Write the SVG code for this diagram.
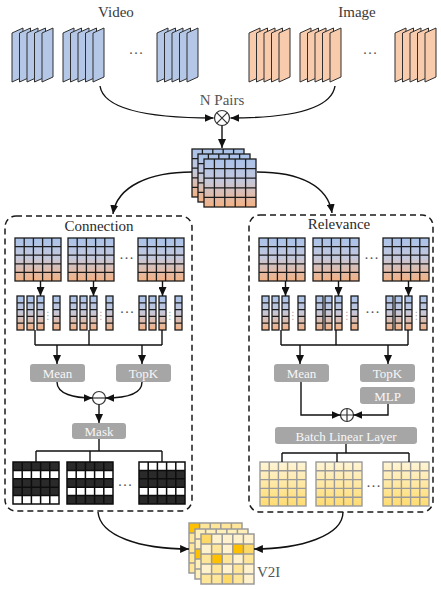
<svg xmlns="http://www.w3.org/2000/svg" xmlns:xlink="http://www.w3.org/1999/xlink" width="441" height="589" viewBox="0 0 441 589">
<style>
.t{font-family:"Liberation Serif","Times New Roman",serif}
.lbl{font-size:15px;fill:#3a3a3a;text-anchor:middle}
.bx{fill:#a6a6a6}
.bt{font-size:13px;fill:#f7f7f7;text-anchor:middle}
.ln{fill:none;stroke:#111;stroke-width:1.4}
.dash{fill:none;stroke:#1a1a1a;stroke-width:1.5;stroke-dasharray:6 4}
.dots{font-size:15px;fill:#555;text-anchor:middle}
.vd{font-family:"DejaVu Sans",sans-serif;font-size:10px;fill:#aaa;text-anchor:middle}
.gl{fill:none;stroke:#1c1c1c;stroke-width:1.3}
.yl{fill:none;stroke:#9a9a9a;stroke-width:1.4}
.vid{fill:#b4c7e7;stroke:#2f2f2f;stroke-width:1}
.img{fill:#f8cbad;stroke:#2f2f2f;stroke-width:1}
.y2{fill:#ffe699}.y3{fill:#ffd966}.y4{fill:#ffc000}
.op{fill:#fff;stroke:#333;stroke-width:1.2}
</style>
<defs>
<marker id="ah" viewBox="0 0 10 9" refX="10" refY="4.5" markerWidth="9" markerHeight="8" orient="auto" markerUnits="userSpaceOnUse"><path d="M0,0L10,4.5L0,9z" fill="#111"/></marker>
<linearGradient id="bo" x1="0" y1="0" x2="0" y2="1"><stop offset="0" stop-color="#a9c2ea"/><stop offset="0.45" stop-color="#c4c8dc"/><stop offset="1" stop-color="#f4b183"/></linearGradient>
<linearGradient id="yg" x1="0" y1="0" x2="0" y2="1"><stop offset="0" stop-color="#fff5d6"/><stop offset="1" stop-color="#ffdb70"/></linearGradient>
<path id="vc" d="M0,5 L11,0 L11,49 L0,54 Z" stroke-linejoin="round"/>
<g id="stk"><use href="#vc" x="0"/><use href="#vc" x="7.5"/><use href="#vc" x="15"/><use href="#vc" x="22.5"/><use href="#vc" x="30"/></g>
<g id="gA"><rect width="46" height="43" fill="url(#bo)"/><path class="gl" d="M9.2,0V43M18.4,0V43M27.6,0V43M36.8,0V43M0,8.6H46M0,17.2H46M0,25.8H46M0,34.4H46"/><rect class="gl" width="46" height="43" stroke-width="1.6"/></g>
<g id="gC"><rect width="52" height="48" fill="url(#bo)"/><path class="gl" d="M10.4,0V48M20.8,0V48M31.2,0V48M41.6,0V48M0,9.6H52M0,19.2H52M0,28.8H52M0,38.4H52"/><rect class="gl" width="52" height="48" stroke-width="1.6"/></g>
<g id="st"><rect width="7" height="34" fill="url(#bo)"/><path class="gl" d="M0,6.8H7M0,13.6H7M0,20.4H7M0,27.2H7" stroke-width="1.1"/><rect class="gl" width="7" height="34"/></g>
<g id="sg"><use href="#st" x="0"/><use href="#st" x="10"/><use href="#st" x="20"/><use href="#st" x="36"/></g>
<path id="mL" d="M9.2,0V42M18.4,0V42M27.6,0V42M36.8,0V42M0,8.4H46M0,16.8H46M0,25.2H46M0,33.6H46M0,0H46V42H0Z" fill="none" stroke="#0d0d0d" stroke-width="1.5"/>
<g id="gY"><rect width="46" height="44" fill="url(#yg)"/><path class="yl" d="M9.2,0V44M18.4,0V44M27.6,0V44M36.8,0V44M0,8.8H46M0,17.6H46M0,26.4H46M0,35.2H46"/><rect class="yl" width="46" height="44" stroke-width="1.6"/></g>
<path id="gV" d="M10.6,0V50M21.2,0V50M31.8,0V50M42.4,0V50M0,10H53M0,20H53M0,30H53M0,40H53M0,0H53V50H0Z" fill="none" stroke="#9a9a9a" stroke-width="1.5"/>
</defs>
<rect width="441" height="589" fill="#fff"/>

<g id="video" class="t">
<text class="lbl" x="116" y="17">Video</text>
<g class="vid"><use href="#stk" x="12" y="28"/><use href="#stk" x="63" y="28"/><use href="#stk" x="157" y="28"/></g>
<text class="dots" x="136" y="54">…</text>
</g>
<g id="image" class="t">
<text class="lbl" x="357" y="17">Image</text>
<g class="img"><use href="#stk" x="249" y="28"/><use href="#stk" x="300" y="28"/><use href="#stk" x="395" y="28"/></g>
<text class="dots" x="370" y="54">…</text>
</g>

<g id="pairs" class="t">
<text class="lbl" x="222" y="105" style="fill:#555">N Pairs</text>
<circle class="op" cx="222" cy="118" r="7.5"/>
<path d="M216.7,112.7L227.3,123.3M227.3,112.7L216.7,123.3" stroke="#333" stroke-width="1.2"/>
</g>

<g id="pairstack">
<use href="#gC" x="192" y="149"/><use href="#gC" x="198" y="154"/><use href="#gC" x="204" y="159"/>
</g>

<g id="connection" class="t">
<rect class="dash" x="5" y="216" width="187" height="295" rx="11"/>
<text class="lbl" x="99" y="231" style="fill:#2a2a2a">Connection</text>
<use href="#gA" x="15" y="238"/><use href="#gA" x="68" y="238"/><use href="#gA" x="138" y="238"/>
<text class="dots" x="126.5" y="259">…</text>
<use href="#sg" x="17" y="296"/><use href="#sg" x="70" y="296"/><use href="#sg" x="139" y="296"/>
<text class="vd" x="48" y="319">⋮</text><text class="vd" x="101" y="319">⋮</text><text class="vd" x="170" y="319">⋮</text>
<text class="dots" x="127" y="313">…</text>
<g id="c-mean"><rect class="bx" x="30" y="364" width="55" height="18" rx="3"/><text class="bt" x="57.5" y="378">Mean</text></g>
<g id="c-topk"><rect class="bx" x="116" y="364" width="55" height="18" rx="3"/><text class="bt" x="143.5" y="378">TopK</text></g>
<g id="c-minus"><circle class="op" cx="99" cy="398" r="6.5"/><path d="M92.5,398H105.5" stroke="#333" stroke-width="1.2"/></g>
<g id="c-mask"><rect class="bx" x="72" y="423" width="54" height="16" rx="3"/><text class="bt" x="99" y="436">Mask</text></g>
<g transform="translate(13,462)"><rect width="46" height="42" fill="#2a2a2a"/><rect y="8.4" width="46" height="8.4" fill="#fff"/><rect y="33.6" width="46" height="8.4" fill="#fff"/><use href="#mL"/></g>
<g transform="translate(67,462)"><rect width="46" height="42" fill="#2a2a2a"/><rect y="8.4" width="46" height="8.4" fill="#fff"/><rect y="25.2" width="46" height="8.4" fill="#fff"/><use href="#mL"/></g>
<g transform="translate(139,462)"><rect width="46" height="42" fill="#2a2a2a"/><rect y="0" width="46" height="8.4" fill="#fff"/><rect y="25.2" width="46" height="8.4" fill="#fff"/><use href="#mL"/></g>
<text class="dots" x="125" y="486">…</text>
</g>

<g id="relevance" class="t">
<rect class="dash" x="249" y="215" width="184" height="297" rx="11"/>
<text class="lbl" x="339" y="229" style="fill:#2a2a2a">Relevance</text>
<use href="#gA" x="259" y="238"/><use href="#gA" x="313" y="238"/><use href="#gA" x="383" y="238"/>
<text class="dots" x="371.5" y="259">…</text>
<g transform="translate(262,296)"><use href="#st" x="0"/><use href="#st" x="10"/><use href="#st" x="20"/><use href="#st" x="36"/></g>
<g transform="translate(316,296)"><use href="#st" x="0"/><use href="#st" x="9"/><use href="#st" x="19"/><use href="#st" x="35"/></g>
<g transform="translate(386,296)"><use href="#st" x="0"/><use href="#st" x="9"/><use href="#st" x="19"/><use href="#st" x="34"/></g>
<text class="vd" x="293" y="319">⋮</text><text class="vd" x="347" y="319">⋮</text><text class="vd" x="416.5" y="319">⋮</text>
<text class="dots" x="372.5" y="313">…</text>
<g id="r-mean"><rect class="bx" x="274" y="364" width="55" height="18" rx="3"/><text class="bt" x="301.5" y="378">Mean</text></g>
<g id="r-topk"><rect class="bx" x="360" y="364" width="55" height="18" rx="3"/><text class="bt" x="387.5" y="378">TopK</text></g>
<g id="r-mlp"><rect class="bx" x="360" y="387" width="55" height="17" rx="3"/><text class="bt" x="387.5" y="401">MLP</text></g>
<g id="r-plus"><circle class="op" cx="347" cy="415" r="6.5"/><path d="M340.5,415H353.5M347,408.5V421.5" stroke="#333" stroke-width="1.2"/></g>
<g id="r-bll"><rect class="bx" x="275" y="427" width="142" height="17" rx="3"/><text class="bt" x="346" y="441">Batch Linear Layer</text></g>
<use href="#gY" x="260" y="462"/><use href="#gY" x="316" y="462"/><use href="#gY" x="383" y="462"/>
<text class="dots" x="373.5" y="487">…</text>
</g>

<g id="v2i" class="t">
<rect x="189" y="523" width="53" height="50" fill="#ffe699"/><rect x="189" y="523" width="10.6" height="10" class="y4"/><use href="#gV" x="189" y="523"/>
<rect x="195" y="529" width="53" height="50" fill="#ffefb8"/><rect x="195" y="549" width="10.6" height="10" class="y4"/><use href="#gV" x="195" y="529"/>
<g transform="translate(201,534)">
<rect width="53" height="50" fill="#fff2cc"/>
<rect class="y3" x="0" y="0" width="10.6" height="10"/>
<rect class="y2" x="10.6" y="10" width="10.6" height="10"/><rect class="y4" x="31.8" y="10" width="10.6" height="10"/><rect class="y3" x="42.4" y="10" width="10.6" height="10"/>
<rect class="y2" x="0" y="20" width="10.6" height="10"/><rect class="y4" x="10.6" y="20" width="10.6" height="10"/><rect class="y2" x="21.2" y="20" width="10.6" height="10"/><rect class="y2" x="42.4" y="20" width="10.6" height="10"/>
<rect class="y2" x="10.6" y="30" width="10.6" height="10"/><rect class="y2" x="31.8" y="30" width="10.6" height="10"/>
<rect class="y2" x="0" y="40" width="10.6" height="10"/><rect class="y2" x="10.6" y="40" width="10.6" height="10"/><rect class="y3" x="21.2" y="40" width="10.6" height="10"/><rect class="y2" x="31.8" y="40" width="10.6" height="10"/>
<use href="#gV"/>
</g>
<text x="257" y="577" style="font-size:15px;fill:#555">V2I</text>
</g>

<g id="connectors">
<path class="ln" d="M100,86 C104,112 160,118 213.5,118" marker-end="url(#ah)"/>
<path class="ln" d="M335,86 C331,112 282,118 230.5,118" marker-end="url(#ah)"/>
<path class="ln" d="M222,125.5V148" marker-end="url(#ah)"/>
<path class="ln" d="M192,172 C150,172 117,186 113,214" marker-end="url(#ah)"/>
<path class="ln" d="M257,172 C300,172 328,186 332,213" marker-end="url(#ah)"/>
<path class="ln" d="M40.5,281V296" marker-end="url(#ah)"/>
<path class="ln" d="M93.5,281V296" marker-end="url(#ah)"/>
<path class="ln" d="M162.5,281V296" marker-end="url(#ah)"/>
<path class="ln" d="M285.5,281V296" marker-end="url(#ah)"/>
<path class="ln" d="M338.5,281V296" marker-end="url(#ah)"/>
<path class="ln" d="M408.5,281V296" marker-end="url(#ah)"/>
<path class="ln" d="M35,330V345M89,330V345M162,330V345M35,345H162"/>
<path class="ln" d="M57,345V364" marker-end="url(#ah)"/>
<path class="ln" d="M142,345V364" marker-end="url(#ah)"/>
<path class="ln" d="M57,382 C57,394 74,398 92.5,398" marker-end="url(#ah)"/>
<path class="ln" d="M142,382 C142,394 125,398 105.5,398" marker-end="url(#ah)"/>
<path class="ln" d="M99,404.5V423" marker-end="url(#ah)"/>
<path class="ln" d="M99,439V451M36,451H162M36,451V462M90,451V462M162,451V462"/>
<path class="ln" d="M281,330V345M336,330V345M408,330V345M281,345H408"/>
<path class="ln" d="M300,345V364" marker-end="url(#ah)"/>
<path class="ln" d="M388,345V364" marker-end="url(#ah)"/>
<path class="ln" d="M301,382V415H340.5" marker-end="url(#ah)"/>
<path class="ln" d="M388,404V415H353.5" marker-end="url(#ah)"/>
<path class="ln" d="M346,444V453M282,453H409M282,453V462M337,453V462M409,453V462"/>
<path class="ln" d="M98,512 C100,536 140,549 189,549" marker-end="url(#ah)"/>
<path class="ln" d="M343,512 C343,536 300,549 254,549" marker-end="url(#ah)"/>
</g>
</svg>
